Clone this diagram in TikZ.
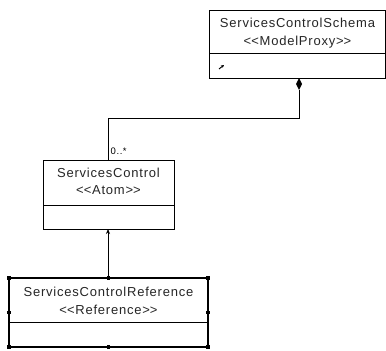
\documentclass[tikz,border=0pt]{standalone}
\usepackage{fontspec}
\setmainfont{Liberation Sans}[LetterSpace=6]
\usetikzlibrary{arrows.meta}
\newcommand{\ltlt}{<\kern0pt<}
\newcommand{\gtgt}{>\kern0pt>}
\begin{document}
\begin{tikzpicture}[x=1pt,y=-1pt,
  box/.style={draw=black,line width=0.8pt,fill=white},
  thickbox/.style={draw=black,line width=2pt,fill=white},
  txt/.style={font=\fontsize{13}{15}\selectfont,inner sep=0pt,text=black!85},
  conn/.style={draw=black,line width=0.8pt},
  handle/.style={fill=black,minimum size=3.5pt,inner sep=0pt}]
\useasboundingbox (0,0) rectangle (386,351);
% top class
\draw[box] (209,10) rectangle (385,78);
\draw[conn] (209,53) -- (385,53);
\node[txt] (schemaname) at (297.5,23) {ServicesControlSchema};
\node[txt] (schemast) at (297.5,42) {\ltlt ModelProxy\gtgt};
\draw[line width=1pt,-{Stealth[length=3pt,width=3pt]}] (219,69) -- (224,65);
\coordinate (schemabot) at (299,78);
% middle class
\draw[box] (43,160) rectangle (174,229);
\draw[conn] (43,205) -- (174,205);
\node[txt] (ctrlname) at (108.5,173) {ServicesControl};
\node[txt] (ctrlst) at (108.5,190) {\ltlt Atom\gtgt};
\coordinate (ctrltop) at (108,160);
\coordinate (ctrlbot) at (108,229);
% bottom class
\draw[thickbox] (9,278) rectangle (208,347);
\draw[conn] (9,322) -- (208,322);
\node[txt] (refname) at (108.5,292) {ServicesControlReference};
\node[txt] (refst) at (108.5,310) {\ltlt Reference\gtgt};
\coordinate (reftop) at (108,278);
\foreach \p in {(9,278),(108.5,278),(208,278),(9,312.5),(208,312.5),(9,347),(108.5,347),(208,347)}
  \node[handle] at \p {};
% connectors
\draw[conn] (ctrltop) -- (108,118) -| (299,90);
\fill[black] (299,78) -- (302,84) -- (299,90) -- (296,84) -- cycle;
\node[font=\fontsize{9.5}{10}\selectfont,inner sep=0pt,anchor=south west] (mult) at (110.5,155) {0..*};
\draw[conn,-{Stealth[length=5pt,width=4pt]}] (reftop) -- (ctrlbot);
\end{tikzpicture}
\end{document}
